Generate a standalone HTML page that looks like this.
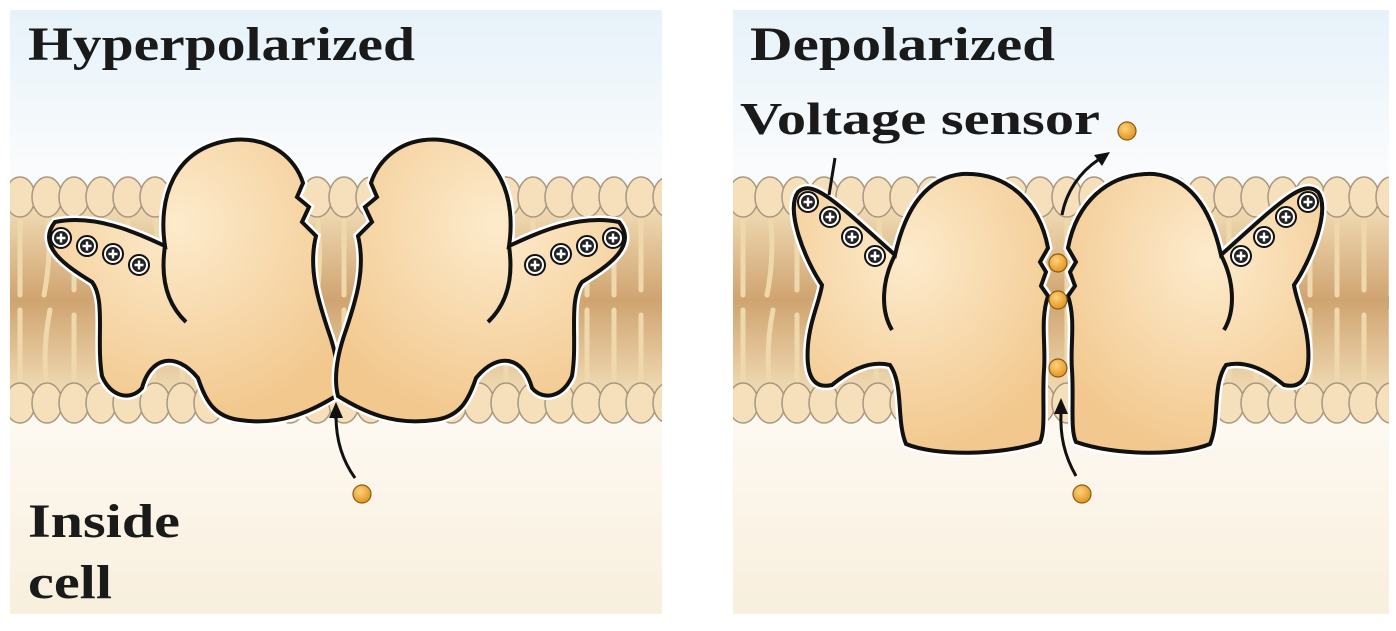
<!DOCTYPE html>
<html><head><meta charset="utf-8"><style>html,body{margin:0;padding:0;background:#fff;width:1396px;height:631px;overflow:hidden}</style></head>
<body>
<svg width="1396" height="631" viewBox="0 0 1396 631" xmlns="http://www.w3.org/2000/svg">
<defs>
<linearGradient id="bg" x1="0" y1="0" x2="0" y2="1">
<stop offset="0" stop-color="#e6f2fa"/><stop offset="0.25" stop-color="#f9fbfc"/><stop offset="0.7" stop-color="#fdf8f0"/><stop offset="1" stop-color="#f8efdc"/>
</linearGradient>
<linearGradient id="mem" x1="0" y1="0" x2="0" y2="1">
<stop offset="0" stop-color="#f1dcb6"/><stop offset="0.5" stop-color="#cfa470"/><stop offset="1" stop-color="#f1dcb6"/>
</linearGradient>
<radialGradient id="prot" cx="0.45" cy="0.3" r="0.7">
<stop offset="0" stop-color="#fdebcc"/><stop offset="1" stop-color="#f2c88e"/>
</radialGradient>
<radialGradient id="ball" cx="0.4" cy="0.35" r="0.6">
<stop offset="0" stop-color="#ffd27a"/><stop offset="1" stop-color="#e39a2a"/>
</radialGradient>
<clipPath id="c1"><rect x="10" y="10" width="652" height="604"/></clipPath>
<clipPath id="c2"><rect x="733" y="10" width="656" height="604"/></clipPath>
<g id="lip">
<rect x="0" y="205" width="700" height="190" fill="url(#mem)"/>
<g stroke="#f0d8ad" stroke-width="5" fill="none" stroke-linecap="round">
<path d="M20 215 v80 M47 215 q5 40 -3 80 M74 215 v75 M101 215 q-6 40 2 80 M128 215 v80 M155 215 q5 40 0 80 M182 215 v75 M209 215 v80 M236 215 q-5 40 3 80 M263 215 v80 M290 215 v75 M317 215 q5 40 0 80 M344 215 v80 M371 215 v80 M398 215 q-5 40 2 80 M425 215 v75 M452 215 v80 M479 215 q5 40 0 80 M506 215 v80 M533 215 v75 M560 215 q-5 40 2 80 M587 215 v80 M614 215 v80 M641 215 v75 M668 215 v80"/>
<path d="M20 390 v-80 M47 390 q-5 -40 3 -80 M74 390 v-75 M101 390 q6 -40 -2 -80 M128 390 v-80 M155 390 q-5 -40 0 -80 M182 390 v-75 M209 390 v-80 M236 390 q5 -40 -3 -80 M263 390 v-80 M290 390 v-75 M317 390 q-5 -40 0 -80 M344 390 v-80 M371 390 v-80 M398 390 q5 -40 -2 -80 M425 390 v-75 M452 390 v-80 M479 390 q-5 -40 0 -80 M506 390 v-80 M533 390 v-75 M560 390 q5 -40 -2 -80 M587 390 v-80 M614 390 v-80 M641 390 v-75 M668 390 v-80"/>
</g>
<g fill="#f5e0bb" stroke="#a89880" stroke-width="1.5">
<ellipse cx="20" cy="197" rx="15" ry="20"/><ellipse cx="47" cy="197" rx="15" ry="20"/><ellipse cx="74" cy="197" rx="15" ry="20"/><ellipse cx="101" cy="197" rx="15" ry="20"/><ellipse cx="128" cy="197" rx="15" ry="20"/><ellipse cx="155" cy="197" rx="15" ry="20"/><ellipse cx="182" cy="197" rx="15" ry="20"/><ellipse cx="209" cy="197" rx="15" ry="20"/><ellipse cx="236" cy="197" rx="15" ry="20"/><ellipse cx="263" cy="197" rx="15" ry="20"/><ellipse cx="290" cy="197" rx="15" ry="20"/><ellipse cx="317" cy="197" rx="15" ry="20"/><ellipse cx="344" cy="197" rx="15" ry="20"/><ellipse cx="371" cy="197" rx="15" ry="20"/><ellipse cx="398" cy="197" rx="15" ry="20"/><ellipse cx="425" cy="197" rx="15" ry="20"/><ellipse cx="452" cy="197" rx="15" ry="20"/><ellipse cx="479" cy="197" rx="15" ry="20"/><ellipse cx="506" cy="197" rx="15" ry="20"/><ellipse cx="533" cy="197" rx="15" ry="20"/><ellipse cx="560" cy="197" rx="15" ry="20"/><ellipse cx="587" cy="197" rx="15" ry="20"/><ellipse cx="614" cy="197" rx="15" ry="20"/><ellipse cx="641" cy="197" rx="15" ry="20"/><ellipse cx="668" cy="197" rx="15" ry="20"/>
<ellipse cx="20" cy="403" rx="15" ry="20"/><ellipse cx="47" cy="403" rx="15" ry="20"/><ellipse cx="74" cy="403" rx="15" ry="20"/><ellipse cx="101" cy="403" rx="15" ry="20"/><ellipse cx="128" cy="403" rx="15" ry="20"/><ellipse cx="155" cy="403" rx="15" ry="20"/><ellipse cx="182" cy="403" rx="15" ry="20"/><ellipse cx="209" cy="403" rx="15" ry="20"/><ellipse cx="236" cy="403" rx="15" ry="20"/><ellipse cx="263" cy="403" rx="15" ry="20"/><ellipse cx="290" cy="403" rx="15" ry="20"/><ellipse cx="317" cy="403" rx="15" ry="20"/><ellipse cx="344" cy="403" rx="15" ry="20"/><ellipse cx="371" cy="403" rx="15" ry="20"/><ellipse cx="398" cy="403" rx="15" ry="20"/><ellipse cx="425" cy="403" rx="15" ry="20"/><ellipse cx="452" cy="403" rx="15" ry="20"/><ellipse cx="479" cy="403" rx="15" ry="20"/><ellipse cx="506" cy="403" rx="15" ry="20"/><ellipse cx="533" cy="403" rx="15" ry="20"/><ellipse cx="560" cy="403" rx="15" ry="20"/><ellipse cx="587" cy="403" rx="15" ry="20"/><ellipse cx="614" cy="403" rx="15" ry="20"/><ellipse cx="641" cy="403" rx="15" ry="20"/><ellipse cx="668" cy="403" rx="15" ry="20"/>
</g>
</g>
<g id="plus"><circle r="10" fill="#fff" stroke="#111" stroke-width="2"/><circle r="7" fill="#222"/><path d="M-4.5 0h9M0 -4.5v9" stroke="#fff" stroke-width="2.4"/></g>
<g id="s1">
<path d="M55 222 C95 214 135 232 165 246 C158 200 172 148 232 140 C272 136 296 160 303 183 L297 197 L309 207 L302 222 L316 236 C308 268 318 300 328 330 C338 358 340 380 336 396 C310 412 280 426 240 420 C215 417 206 402 198 378 C175 350 150 358 142 388 C130 402 110 396 102 376 C96 340 106 300 92 282 C66 266 36 246 55 222 Z" fill="url(#prot)" stroke="#fff" stroke-width="9"/>
<path d="M55 222 C95 214 135 232 165 246 C158 200 172 148 232 140 C272 136 296 160 303 183 L297 197 L309 207 L302 222 L316 236 C308 268 318 300 328 330 C338 358 340 380 336 396 C310 412 280 426 240 420 C215 417 206 402 198 378 C175 350 150 358 142 388 C130 402 110 396 102 376 C96 340 106 300 92 282 C66 266 36 246 55 222 Z" fill="url(#prot)" stroke="#111" stroke-width="4"/>
<path d="M165 246 C160 280 168 305 186 322" fill="none" stroke="#111" stroke-width="4"/>
<use href="#plus" x="61" y="238"/><use href="#plus" x="87" y="246"/><use href="#plus" x="113" y="254"/><use href="#plus" x="139" y="265"/>
</g>
<g id="s2">
<path d="M798 192 C812 180 830 196 895 255 C905 210 925 178 962 174 C1010 172 1040 205 1048 248 L1040 262 L1046 272 L1041 286 L1048 296 C1040 320 1046 345 1044 370 C1042 400 1046 430 1040 442 C1000 456 935 456 906 444 C896 420 904 385 890 365 C870 360 850 370 832 385 C810 390 806 370 808 345 C810 320 820 300 822 285 C805 260 785 210 798 192 Z" fill="url(#prot)" stroke="#fff" stroke-width="9"/>
<path d="M798 192 C812 180 830 196 895 255 C905 210 925 178 962 174 C1010 172 1040 205 1048 248 L1040 262 L1046 272 L1041 286 L1048 296 C1040 320 1046 345 1044 370 C1042 400 1046 430 1040 442 C1000 456 935 456 906 444 C896 420 904 385 890 365 C870 360 850 370 832 385 C810 390 806 370 808 345 C810 320 820 300 822 285 C805 260 785 210 798 192 Z" fill="url(#prot)" stroke="#111" stroke-width="4"/>
<path d="M895 255 C882 280 880 310 892 330" fill="none" stroke="#111" stroke-width="4"/>
<use href="#plus" x="808" y="202"/><use href="#plus" x="830" y="217"/><use href="#plus" x="852" y="237"/><use href="#plus" x="875" y="256"/>
</g>
</defs>
<rect x="10" y="10" width="652" height="604" fill="url(#bg)"/>
<rect x="733" y="10" width="656" height="604" fill="url(#bg)"/>
<g clip-path="url(#c1)"><use href="#lip"/></g>
<g clip-path="url(#c2)"><use href="#lip" x="723"/></g>
<use href="#s1"/>
<use href="#s1" transform="translate(674,0) scale(-1,1)"/>
<use href="#s2"/>
<use href="#s2" transform="translate(2116,0) scale(-1,1)"/>
<g fill="url(#ball)" stroke="#8a5a10" stroke-width="1.2">
<circle cx="362" cy="494" r="9"/><circle cx="1127" cy="131" r="9"/><circle cx="1058" cy="263" r="9"/><circle cx="1058" cy="300" r="9"/><circle cx="1058" cy="368" r="9"/><circle cx="1082" cy="494" r="9"/>
</g>
<g fill="none" stroke="#111" stroke-width="3">
<path d="M355 478 C342 460 336 440 336 416"/>
<path d="M1076 476 C1064 455 1060 435 1061 412"/>
<path d="M1062 215 C1066 192 1080 172 1098 160"/>
<path d="M835 158 L829 195"/>
</g>
<g fill="#111">
<path d="M336 402 l-7 16 l14 0 z"/>
<path d="M1061 398 l-7 16 l14 0 z"/>
<path d="M1110 152 l-16 3 l8 11 z"/>
</g>
<g font-family="'Liberation Serif', serif" font-weight="bold" fill="#1a1a1a">
<text x="28" y="60" font-size="48" textLength="387" lengthAdjust="spacingAndGlyphs">Hyperpolarized</text>
<text x="750" y="60" font-size="48" textLength="305" lengthAdjust="spacingAndGlyphs">Depolarized</text>
<text x="740" y="134" font-size="46" textLength="360" lengthAdjust="spacingAndGlyphs">Voltage sensor</text>
<text x="28" y="537" font-size="48" textLength="152" lengthAdjust="spacingAndGlyphs">Inside</text>
<text x="28" y="598" font-size="48" textLength="84" lengthAdjust="spacingAndGlyphs">cell</text>
</g>
</svg>
</body></html>
